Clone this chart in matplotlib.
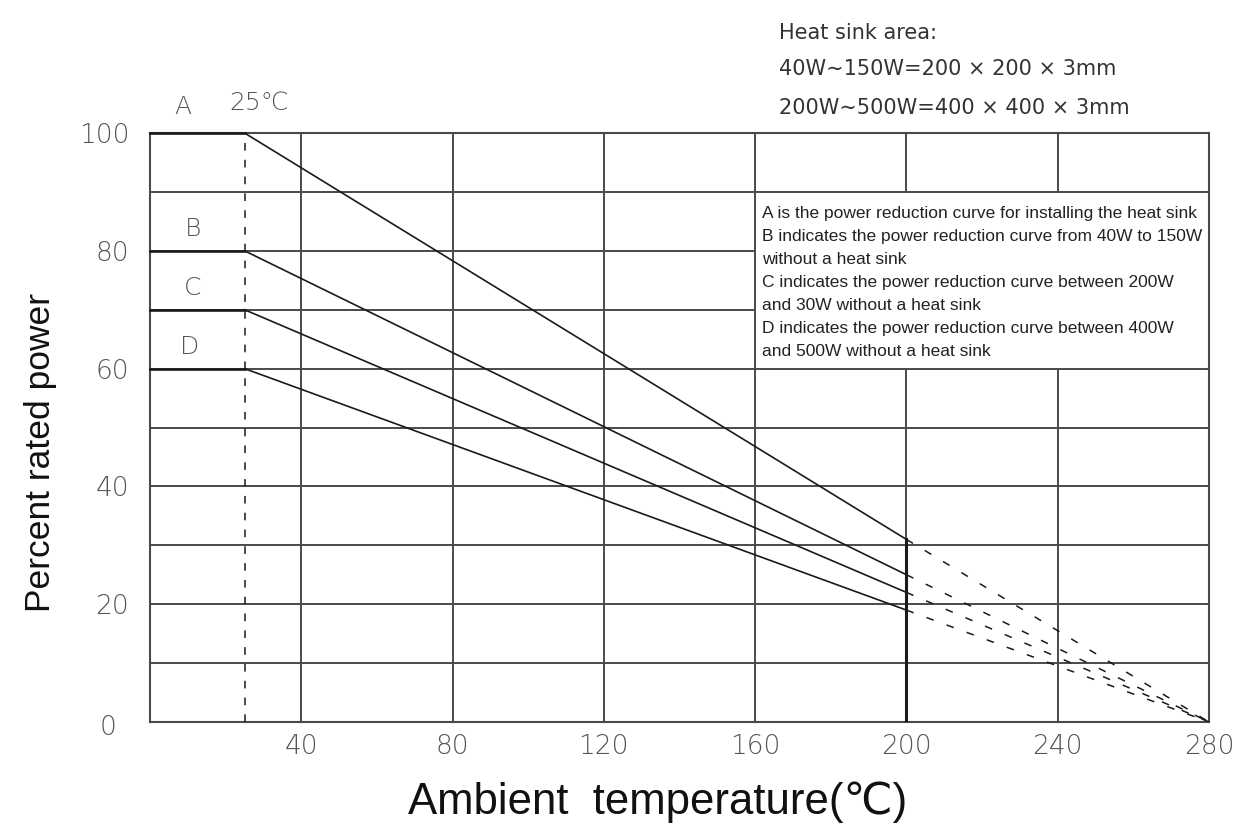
import matplotlib
matplotlib.use("Agg")
import matplotlib.pyplot as plt
from matplotlib.patches import Rectangle

# ---- data ----
curve_labels = ["A", "B", "C", "D"]
start_power = [100, 80, 70, 60]          # % rated power up to the knee
power_at_200 = [31, 25, 22, 19]          # % at 200 C (end of solid part)
knee_temp = 25
solid_end_temp = 200
zero_temp = 280
x_ticks = [40, 80, 120, 160, 200, 240, 280]
y_ticks = [20, 40, 60, 80, 100]
x_grid = [40, 80, 120, 160, 200, 240]
y_grid = [10, 20, 30, 40, 50, 60, 70, 80, 90]
legend_lines = [
    "A is the power reduction curve for installing the heat sink",
    "B indicates the power reduction curve from 40W to 150W",
    "without a heat sink",
    "C indicates the power reduction curve between 200W",
    "and 30W without a heat sink",
    "D indicates the power reduction curve between 400W",
    "and 500W without a heat sink",
]
heat_sink_lines = [
    "Heat sink area:",
    "40W\u223c150W=200 \u00d7 200 \u00d7 3mm",
    "200W\u223c500W=400 \u00d7 400 \u00d7 3mm",
]

W, H = 1251, 832
fig = plt.figure(figsize=(W / 100, H / 100), dpi=100)
ax = fig.add_axes([150 / W, 1 - 722 / H, (1209 - 150) / W, (722 - 133) / H])
ax.set_xlim(0, 280)
ax.set_ylim(0, 100)
renderer = fig.canvas.get_renderer()


def fit_width(texts, target_px):
    """scale font size of a group of texts so the widest one is target_px wide"""
    w = max(t.get_window_extent(renderer).width for t in texts)
    fs = texts[0].get_fontsize() * target_px / w
    for t in texts:
        t.set_fontsize(fs)


grid_c = "#4a4a4a"
for s in ax.spines.values():
    s.set_color(grid_c)
    s.set_linewidth(1.5)
for gx in x_grid:
    ax.axvline(gx, color=grid_c, lw=1.4, zorder=1)
for gy in y_grid:
    ax.axhline(gy, color=grid_c, lw=1.4, zorder=1)

# legend box (covers grid)
ax.add_patch(Rectangle((160, 60), 120, 30, facecolor="white", edgecolor=grid_c,
                       lw=1.4, zorder=2))

tick_font = dict(family="DejaVu Sans", weight="light", color="#555555")
ax.set_xticks(x_ticks)
ax.set_xticklabels([str(v) for v in x_ticks], fontsize=19, **tick_font)
ax.set_yticks(y_ticks)
ax.set_yticklabels([str(v) for v in y_ticks], fontsize=19, **tick_font)
ax.tick_params(length=0)
ax.tick_params(axis="x", pad=9)
ax.tick_params(axis="y", pad=15)
ax.text(-11.1, -1.0, "0", ha="center", va="center", fontsize=19, clip_on=False, **tick_font)

# curves
line_c = "#1a1a1a"
for lab, p0, p200 in zip(curve_labels, start_power, power_at_200):
    ax.plot([0, knee_temp], [p0, p0], color=line_c, lw=1.9, zorder=4, clip_on=False)
    ax.plot([knee_temp, solid_end_temp], [p0, p200], color=line_c, lw=1.2, zorder=4)
    ax.plot([solid_end_temp, zero_temp], [p200, 0], color=line_c, lw=1.1,
            linestyle=(0, (5, 9)), zorder=4)

ax.plot([knee_temp, knee_temp], [0, 100], color=line_c, lw=1.1,
        linestyle=(0, (5, 6)), zorder=3)
ax.plot([solid_end_temp, solid_end_temp], [0, max(power_at_200)], color=line_c,
        lw=2.2, zorder=3)

# curve letter labels
lab_font = dict(family="DejaVu Sans", weight="light", color="#555555", fontsize=18)
ax.text(8.7, 104.4, "A", ha="center", va="center", clip_on=False, **lab_font)
ax.text(28.8, 105.1, "25\u2103", ha="center", va="center", clip_on=False, **lab_font)
for lab, p0, dx in zip(curve_labels[1:], start_power[1:], [11.4, 11.4, 10.6]):
    ax.text(dx, p0 + 3.7, lab, ha="center", va="center", **lab_font)

# legend text
narrow = ["Liberation Sans Narrow", "Liberation Sans", "DejaVu Sans"]
leg_texts = []
for i, t in enumerate(legend_lines):
    leg_texts.append(ax.text(161.8, 86.3 - i * 3.9, t, ha="left", va="center",
                             fontsize=12, family=narrow, color="#222222", zorder=5))
fit_width(leg_texts, 440)

# heat sink text
hs_texts = []
for t, y in zip(heat_sink_lines, [33, 69, 108]):
    hs_texts.append(fig.text(779 / W, 1 - y / H, t, ha="left", va="center", fontsize=14,
                             family=["DejaVu Sans"], color="#333333"))
w3 = hs_texts[2].get_window_extent(renderer).width
fs = 14 * 350 / w3
for t in hs_texts:
    t.set_fontsize(fs)

ax.set_xlabel("Ambient  temperature(\u2103)", fontsize=31.5, va="center",
              family=["Liberation Sans", "DejaVu Sans"], color="#111111")
ax.xaxis.set_label_coords((658 - 150) / 1059, (722 - 802) / 589)
ax.set_ylabel("Percent rated power", fontsize=25.5, va="center",
              family=["Liberation Sans", "DejaVu Sans"], color="#111111")
ax.yaxis.set_label_coords((41 - 150) / 1059, (722 - 452) / 589)

fig.savefig("out.png", dpi=100)
